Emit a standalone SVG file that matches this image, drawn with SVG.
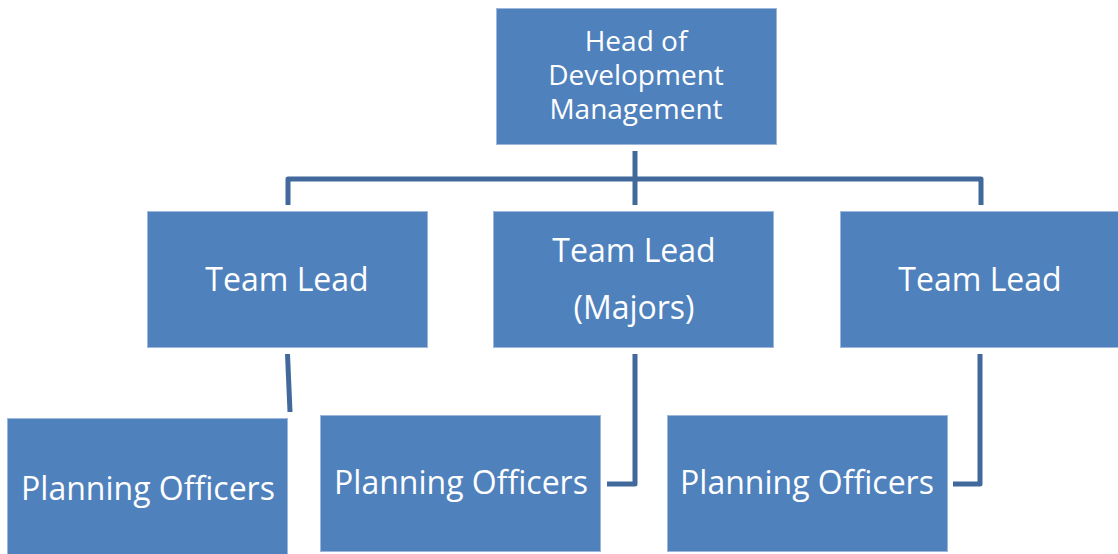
<svg xmlns="http://www.w3.org/2000/svg" width="1118" height="554" viewBox="0 0 1118 554">
<style>
.box{fill:#4F81BD;stroke:#9DB8DC;stroke-width:1}
.t{font-family:"Open Sans","Liberation Sans",sans-serif;fill:#FFFFFF;text-anchor:middle}
.big{font-size:32px}
.small{font-size:28px}
.c{fill:none;stroke:#41699C;stroke-width:5;stroke-linejoin:round}
</style>
<rect width="1118" height="554" fill="#FFFFFF"/>
<g id="connectors">
<path class="c" d="M635 151 V205"/>
<path class="c" d="M288 205 V179 H981 V205"/>
<path class="c" d="M287.5 354 L290 412"/>
<path class="c" d="M635 354 V484 H607"/>
<path class="c" d="M980 354 V484 H953"/>
</g>
<g id="head">
<rect class="box" x="496.5" y="8.5" width="280" height="136"/>
<text class="t small" x="636" y="51">Head of</text>
<text class="t small" x="636" y="85">Development</text>
<text class="t small" x="636" y="119">Management</text>
</g>
<g id="lead1">
<rect class="box" x="147.5" y="211.5" width="280" height="136"/>
<text class="t big" x="287" y="291">Team Lead</text>
</g>
<g id="lead2">
<rect class="box" x="493.5" y="211.5" width="280" height="136"/>
<text class="t big" x="634" y="262">Team Lead</text>
<text class="t big" x="634" y="319">(Majors)</text>
</g>
<g id="lead3">
<rect class="box" x="840.5" y="211.5" width="280" height="136"/>
<text class="t big" x="980" y="291">Team Lead</text>
</g>
<g id="po1">
<rect class="box" x="7.5" y="418.5" width="280" height="140"/>
<text class="t big" x="148" y="500">Planning Officers</text>
</g>
<g id="po2">
<rect class="box" x="320.5" y="415.5" width="280" height="136"/>
<text class="t big" x="461" y="494">Planning Officers</text>
</g>
<g id="po3">
<rect class="box" x="667.5" y="415.5" width="280" height="136"/>
<text class="t big" x="807" y="494">Planning Officers</text>
</g>
</svg>
